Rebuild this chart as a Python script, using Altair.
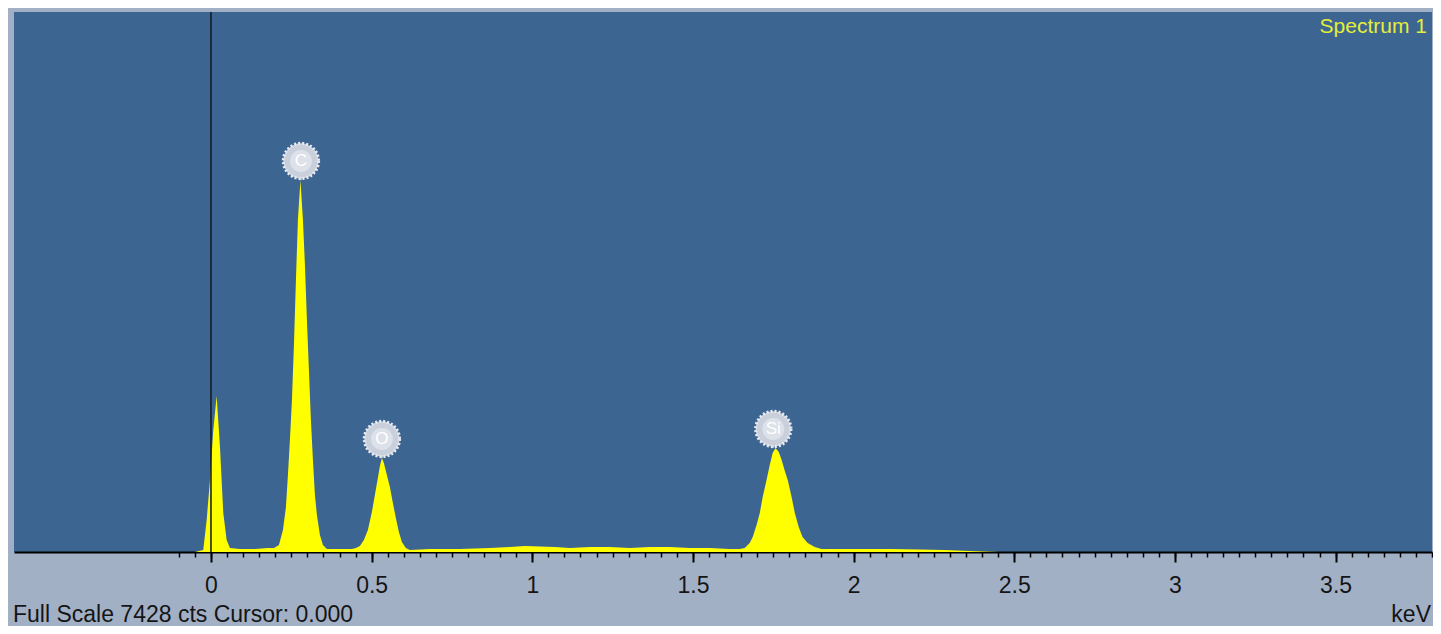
import altair as alt
import pandas as pd

# ---- spectrum values (energy in keV, counts) ----
lead_keV = [-0.613, -0.05]
lead_cts = [0, 0]

strobe_keV = [-0.024, -0.0134, -0.0031, 0.0072, 0.0177, 0.0280, 0.0383, 0.0488, 0.0591]
strobe_cts = [28, 440, 990, 1678, 2146, 1444, 536, 165, 55]

gap1_keV = [0.090, 0.137, 0.177]
gap1_cts = [41, 41, 55]

c_keV = [0.196, 0.2115, 0.224, 0.2333, 0.2395, 0.2457, 0.2520, 0.2582, 0.2644, 0.2706, 0.2784,
         0.2862, 0.2924, 0.2986, 0.3048, 0.3110, 0.3173, 0.3235, 0.3297, 0.3390, 0.3484, 0.3608]
c_cts = [55, 96, 303, 619, 1059, 1541, 2091, 2847, 3742, 4567, 5117,
         4567, 3948, 3191, 2504, 1816, 1266, 784, 509, 234, 96, 41]

gap2_keV = [0.401, 0.4386]
gap2_cts = [41, 41]

o_keV = [0.451, 0.4635, 0.4759, 0.4883, 0.5008, 0.5101, 0.5194, 0.5257, 0.5319,
         0.5381, 0.5474, 0.5568, 0.5661, 0.5754, 0.5848, 0.5941, 0.6065, 0.619]
o_cts = [55, 83, 165, 303, 550, 784, 1018, 1183, 1293,
         1224, 1059, 894, 674, 468, 275, 138, 55, 28]

bg_keV = [0.681, 0.7745, 0.868, 0.930, 0.977, 1.023, 1.070, 1.117,
          1.179, 1.241, 1.303, 1.365, 1.428, 1.490, 1.552, 1.614]
bg_cts = [41, 41, 55, 69, 83, 76, 69, 55, 69, 69, 55, 69, 69, 55, 55, 41]

si_keV = [1.645, 1.661, 1.6765, 1.686, 1.698, 1.708, 1.717, 1.729, 1.739, 1.748, 1.757, 1.767,
          1.776, 1.785, 1.795, 1.807, 1.817, 1.829, 1.841, 1.857, 1.879, 1.900, 1.925]
si_cts = [41, 55, 124, 206, 371, 536, 757, 990, 1197, 1362, 1431, 1376,
          1266, 1128, 990, 757, 536, 344, 206, 124, 69, 41, 41]

tail_keV = [2.019, 2.112, 2.205, 2.283, 2.361, 2.454, 3.80]
tail_cts = [41, 41, 34, 28, 14, 0, 0]

# peak identification markers
peak_labels = ["C", "O", "Si"]
peak_keV = [0.280, 0.532, 1.750]
peak_cts = [5117, 1293, 1431]

# axis ticks
major_ticks = [0, 0.5, 1, 1.5, 2, 2.5, 3, 3.5]
minor_ticks = [round(i * 0.05, 2) for i in range(-2, 77)]

cursor_keV = [0.0]
full_scale = 7428
footer_text = "Full Scale 7428 cts Cursor: 0.000"
unit_text = "keV"
spectrum_name = "Spectrum 1"

energy = lead_keV + strobe_keV + gap1_keV + c_keV + gap2_keV + o_keV + bg_keV + si_keV + tail_keV
counts = lead_cts + strobe_cts + gap1_cts + c_cts + gap2_cts + o_cts + bg_cts + si_cts + tail_cts
spec = pd.DataFrame({"keV": energy, "counts": counts})
peaks = pd.DataFrame({"label": peak_labels, "keV": peak_keV, "counts": peak_cts})
cursor = pd.DataFrame({"keV": cursor_keV})

FONT = "Liberation Sans"
xscale = alt.Scale(domain=[-0.613, 3.80], nice=False, zero=False)
yscale = alt.Scale(domain=[0, full_scale], nice=False, zero=True)

major_axis = alt.Axis(values=major_ticks, format="~g", title=None, grid=False,
                      orient="bottom", tickSize=10, tickWidth=2, tickColor="black",
                      domain=True, domainColor="black", domainWidth=2,
                      labelFont=FONT, labelFontSize=23, labelColor="#151515",
                      labelPadding=12)
minor_axis = alt.Axis(values=minor_ticks, labels=False, title=None, grid=False,
                      orient="bottom", tickSize=5, tickWidth=1.5, tickColor="black",
                      domain=False)

area = alt.Chart(spec).mark_area(color="#ffff00", interpolate="linear").encode(
    x=alt.X("keV:Q", scale=xscale, axis=major_axis),
    y=alt.Y("counts:Q", scale=yscale, axis=None),
)

cursor_rule = alt.Chart(cursor).mark_rule(color="#101820", strokeWidth=1.5).encode(
    x=alt.X("keV:Q", scale=xscale, axis=minor_axis),
    y=alt.value(0),
    y2=alt.value(540),
)

px = alt.X("keV:Q", scale=xscale, axis=None)
py = alt.Y("counts:Q", scale=yscale, axis=None)

stem = alt.Chart(peaks).mark_rule(color="#a9b9cc", strokeWidth=2, yOffset=-19, y2Offset=0).encode(
    x=px, y=py, y2="counts:Q",
)

disc = alt.Chart(peaks).mark_point(
    filled=True, shape="circle", size=1250, fill="#c9d0dc", opacity=1,
    stroke="#e8ebf1", strokeWidth=3, strokeDash=[2, 2], yOffset=-19,
).encode(x=px, y=py)

disc_inner = alt.Chart(peaks).mark_point(
    filled=True, shape="circle", size=480, fill="#dde1e9", opacity=1, yOffset=-19,
).encode(x=px, y=py)

disc_text = alt.Chart(peaks).mark_text(
    font=FONT, fontSize=17, color="#ffffff", yOffset=-19, baseline="middle", align="center",
).encode(x=px, y=py, text="label:N")

footer = alt.Chart(pd.DataFrame({"t": [footer_text]})).mark_text(
    font=FONT, fontSize=23, color="#151515", align="left", baseline="alphabetic",
).encode(x=alt.value(-1), y=alt.value(610), text="t:N")

unit = alt.Chart(pd.DataFrame({"t": [unit_text]})).mark_text(
    font=FONT, fontSize=23, color="#151515", align="right", baseline="alphabetic",
).encode(x=alt.value(1417), y=alt.value(610), text="t:N")

name = alt.Chart(pd.DataFrame({"t": [spectrum_name]})).mark_text(
    font=FONT, fontSize=21, color="#e4ee3a", align="right", baseline="alphabetic",
).encode(x=alt.value(1413), y=alt.value(21), text="t:N")

chart = alt.layer(
    area, cursor_rule, stem, disc, disc_inner, disc_text, footer, unit, name
).resolve_axis(x="independent").properties(
    width=1418, height=540,
    padding={"left": 6, "top": 4, "right": 1, "bottom": 74},
    autosize=alt.AutoSizeParams(type="none"),
    background="#a2b0c6",
).configure_view(fill="#3d6591", stroke=None)

chart.save("out.html", embed_options={"renderer": "svg", "actions": False})
